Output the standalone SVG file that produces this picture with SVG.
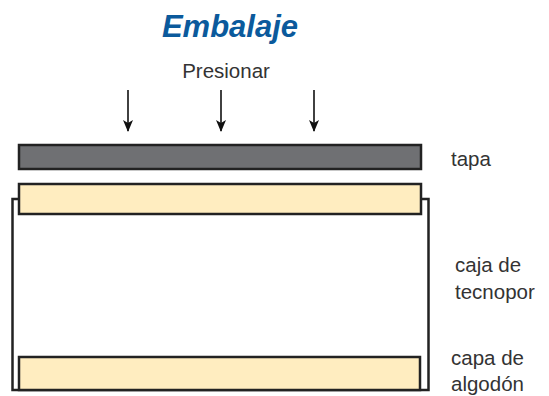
<svg xmlns="http://www.w3.org/2000/svg" width="549" height="396" viewBox="0 0 549 396">
<style>
.lbl{font-family:"Liberation Sans",Arial,sans-serif;font-size:20.5px;fill:#333}
.box{stroke:#222;stroke-width:2.5}
.arr{stroke:#111;stroke-width:1.6;fill:none}
</style>
<defs>
<marker id="ah" markerWidth="12" markerHeight="10" refX="11" refY="5" orient="auto" markerUnits="userSpaceOnUse" viewBox="0 0 12 10">
<path d="M0,0 L12,5 L0,10 L3,5 Z" fill="#111"/>
</marker>
</defs>
<rect width="549" height="396" fill="#fff"/>
<text x="230" y="37" text-anchor="middle" font-family="Liberation Sans,Arial,sans-serif" font-size="31" font-weight="bold" font-style="italic" fill="#0b5a9c">Embalaje</text>
<text class="lbl" x="226" y="78" text-anchor="middle">Presionar</text>
<g id="connectors">
<line class="arr" x1="128" y1="90" x2="128" y2="131" marker-end="url(#ah)"/>
<line class="arr" x1="221" y1="90" x2="221" y2="131" marker-end="url(#ah)"/>
<line class="arr" x1="314" y1="90" x2="314" y2="131" marker-end="url(#ah)"/>
</g>
<g id="caja">
<path class="box" fill="none" d="M19,199 H12.5 V390 H428.5 V199 H422"/>
<text class="lbl" x="455" y="272">caja de</text>
<text class="lbl" x="455" y="299">tecnopor</text>
</g>
<g id="tapa">
<rect class="box" x="19" y="145" width="402" height="24" fill="#6f7073"/>
<text class="lbl" x="451" y="166">tapa</text>
</g>
<g id="capa-superior">
<rect class="box" x="19" y="184" width="402" height="30" fill="#ffedc0"/>
</g>
<g id="capa-algodon">
<rect class="box" x="19" y="357" width="401" height="33" fill="#ffedc0"/>
<text class="lbl" x="451" y="365">capa de</text>
<text class="lbl" x="451" y="391">algodón</text>
</g>
</svg>
